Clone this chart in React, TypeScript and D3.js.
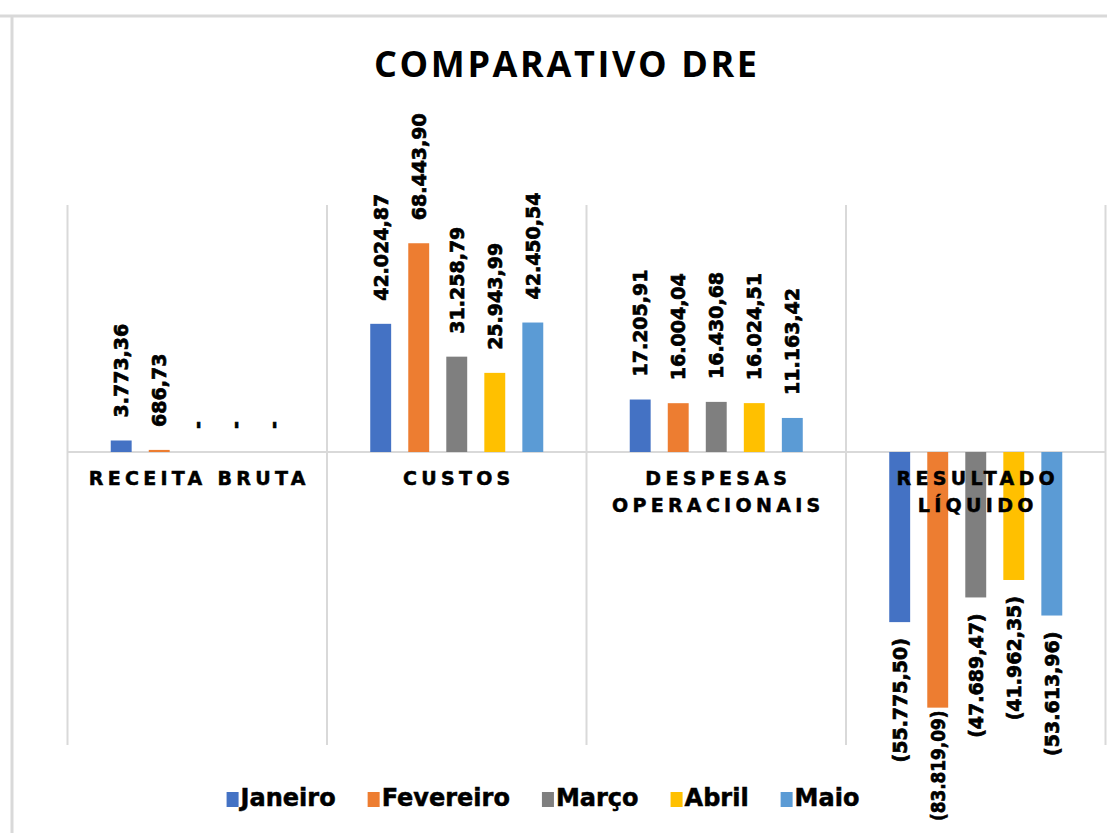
import { useRef, useEffect } from 'react';
import * as d3 from 'd3';

const categories = ['RECEITA BRUTA', 'CUSTOS', 'DESPESAS OPERACIONAIS', 'RESULTADO LÍQUIDO'];
const months = ['Janeiro', 'Fevereiro', 'Março', 'Abril', 'Maio'];

const janeiro = [3773.36, 42024.87, 17205.91, -55775.5];
const fevereiro = [686.73, 68443.9, 16004.04, -83819.09];
const marco = [0, 31258.79, 16430.68, -47689.47];
const abril = [0, 25943.99, 16024.51, -41962.35];
const maio = [0, 42450.54, 11163.42, -53613.96];

const series = [janeiro, fevereiro, marco, abril, maio];
const colors = ['#4472C4', '#ED7D31', '#7F7F7F', '#FFC000', '#5B9BD5'];

const labelFont = '"DejaVu Sans", sans-serif';

const ptBR = d3.formatLocale({ decimal: ',', thousands: '.', grouping: [3], currency: ['R$', ''] });
const fmt = ptBR.format(',.2f');
const labelOf = (v: number) => (v === 0 ? '-' : v < 0 ? `(${fmt(-v)})` : fmt(v));

export default function App() {
  const svgRef = useRef<SVGSVGElement>(null);

  useEffect(() => {
    const width = 1107;
    const height = 833;
    const svg = d3.select(svgRef.current);
    svg.selectAll('*').remove();
    svg.attr('width', width).attr('height', height);

    svg.append('rect').attr('width', width).attr('height', height).attr('fill', '#fff');

    // outer frame of the chart object
    svg.append('line')
      .attr('x1', 0).attr('x2', width).attr('y1', 16).attr('y2', 16)
      .attr('stroke', '#d9d9d9').attr('stroke-width', 3);
    svg.append('line')
      .attr('x1', 12).attr('x2', 12).attr('y1', 16).attr('y2', height)
      .attr('stroke', '#d9d9d9').attr('stroke-width', 3);

    // title
    svg.append('text')
      .attr('x', 565.5).attr('y', 77)
      .attr('text-anchor', 'middle')
      .attr('font-family', '"Open Sans", sans-serif')
      .attr('font-weight', 700)
      .attr('font-size', 36)
      .attr('textLength', 383)
      .attr('lengthAdjust', 'spacing')
      .attr('fill', '#000')
      .text('COMPARATIVO DRE');

    const x0 = d3.scaleBand().domain(categories).range([67.5, 1105.5]);
    const x1 = d3.scaleBand().domain(months).range([0, x0.bandwidth()])
      .paddingInner(0.45).paddingOuter(1.137);
    const y = d3.scaleLinear().domain([-100000, 80000]).range([757, 208]);

    // vertical gridlines
    const gridX = [...categories.map(c => x0(c) as number), 1105.5];
    svg.append('g').selectAll('line')
      .data(gridX)
      .enter()
      .append('line')
      .attr('x1', d => d).attr('x2', d => d)
      .attr('y1', 205).attr('y2', 745)
      .attr('stroke', '#d9d9d9').attr('stroke-width', 2);

    // zero line
    svg.append('line')
      .attr('x1', 67.5).attr('x2', 1105.5)
      .attr('y1', y(0)).attr('y2', y(0))
      .attr('stroke', '#d9d9d9').attr('stroke-width', 2);

    // bars
    series.forEach((vals, i) => {
      const g = svg.append('g');
      g.selectAll('rect')
        .data(vals)
        .enter()
        .append('rect')
        .attr('x', (d, j) => (x0(categories[j]) as number) + (x1(months[i]) as number))
        .attr('width', x1.bandwidth())
        .attr('y', d => y(Math.max(0, d)))
        .attr('height', d => Math.abs(y(d) - y(0)))
        .attr('fill', colors[i]);

      g.selectAll('text')
        .data(vals)
        .enter()
        .append('text')
        .attr('text-anchor', d => (d >= 0 ? 'start' : 'end'))
        .attr('dominant-baseline', 'central')
        .attr('font-family', labelFont)
        .attr('font-weight', 700)
        .attr('font-size', 19)
        .attr('fill', '#000')
        .attr('stroke', '#000')
        .attr('stroke-width', 0.7)
        .text(d => labelOf(d))
        .each(function (d, j) {
          const el = d3.select(this);
          const cx = (x0(categories[j]) as number) + (x1(months[i]) as number) + x1.bandwidth() / 2;
          let ty = d >= 0 ? y(d) - 23 : y(d) + 16;
          if (d < 0) {
            const len = (this as SVGTextElement).getComputedTextLength();
            const bottom = height - 12;
            if (ty + len > bottom) {
              ty = Math.max(y(d) + 3, bottom - len);
              if (ty + len > bottom) {
                el.attr('text-anchor', 'start')
                  .attr('textLength', bottom - ty)
                  .attr('lengthAdjust', 'spacingAndGlyphs');
                ty = bottom;
              } else {
                ty = ty + len;
              }
            }
          }
          el.attr('transform', `translate(${cx},${ty}) rotate(-90)`);
        });
    });

    // category labels (drawn on top of bars)
    categories.forEach(c => {
      const lines = c.length > 13 ? c.split(' ') : [c];
      const t = svg.append('text')
        .attr('text-anchor', 'middle')
        .attr('font-family', labelFont)
        .attr('font-weight', 700)
        .attr('font-size', 19)
        .attr('letter-spacing', 4.3)
        .attr('fill', '#000')
        .attr('stroke', '#000')
        .attr('stroke-width', 0.5);
      lines.forEach((ln, k) => {
        t.append('tspan')
          .attr('x', (x0(c) as number) + x0.bandwidth() / 2 + 2)
          .attr('y', 485 + k * 27)
          .text(ln);
      });
    });

    // legend
    const legend = svg.append('g');
    const items = months.map((m, i) => {
      const g = legend.append('g');
      g.append('rect').attr('x', 0).attr('y', -14).attr('width', 12).attr('height', 15).attr('fill', colors[i]);
      const t = g.append('text')
        .attr('x', 14).attr('y', 0)
        .attr('font-family', labelFont)
        .attr('font-weight', 700)
        .attr('font-size', 24)
        .attr('fill', '#000')
        .attr('stroke', '#000')
        .attr('stroke-width', 0.5)
        .text(m);
      const w = 14 + (t.node() as SVGTextElement).getComputedTextLength();
      return { g, w };
    });
    const gap = 32;
    const total = d3.sum(items, d => d.w) + gap * (items.length - 1);
    let cur = 543 - total / 2;
    items.forEach(it => {
      it.g.attr('transform', `translate(${cur},806)`);
      cur += it.w + gap;
    });
  }, []);

  return (
    <svg ref={svgRef} style={{ position: 'absolute', left: 0, top: 0, display: 'block' }}></svg>
  );
}
